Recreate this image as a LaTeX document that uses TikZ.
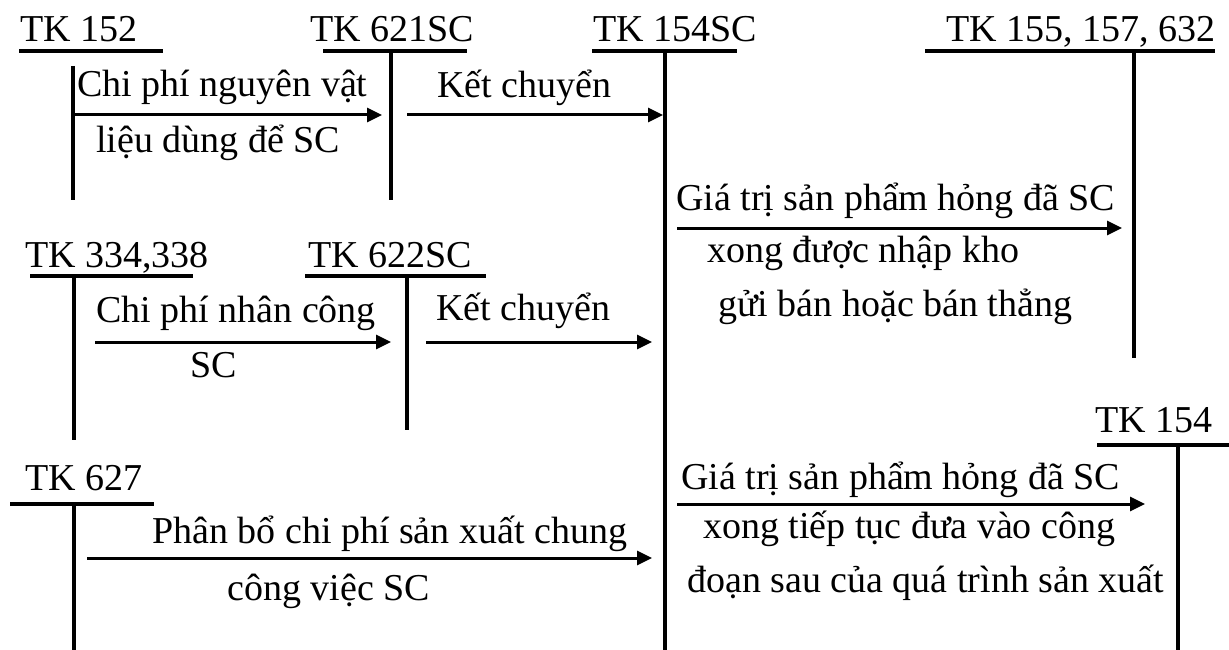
\documentclass[tikz,border=0pt]{standalone}
\usepackage{fontspec}
\setmainfont{Liberation Serif}
\usetikzlibrary{arrows.meta}
\begin{document}
\begin{tikzpicture}[x=1pt,y=-1pt,
  txt/.style={anchor=base west,inner sep=0pt,font=\fontsize{38}{45}\selectfont},
  tline/.style={line width=4pt},
  flow/.style={line width=3pt,-{Triangle[length=15pt,width=14pt]}}]
\useasboundingbox (0,0) rectangle (1229,650);

% account titles
\node[txt] (t152)  at (20,42)   {TK 152};
\node[txt] (t621)  at (310,42)  {TK 621SC};
\node[txt] (t154sc) at (593,42) {TK 154SC};
\node[txt] (t155)  at (946,42)  {TK 155, 157, 632};
\node[txt] (t334)  at (25,267)  {TK 334,338};
\node[txt] (t622)  at (308,267) {TK 622SC};
\node[txt] (t627)  at (25,490)  {TK 627};
\node[txt] (t154)  at (1095,432) {TK 154};

% T-account lines
\draw[tline] (19,51) -- (163,51);   \draw[tline] (73,66) -- (73,200);
\draw[tline] (323,51) -- (467,51);  \draw[tline] (391,51) -- (391,200);
\draw[tline] (592,51) -- (737,51);  \draw[tline] (665,51) -- (665,650);
\draw[tline] (925,51) -- (1215,51); \draw[tline] (1134,51) -- (1134,358);
\draw[tline] (30,276) -- (193,276); \draw[tline] (74,276) -- (74,440);
\draw[tline] (305,276) -- (486,276); \draw[tline] (407,276) -- (407,430);
\draw[tline] (10,504) -- (154,504); \draw[tline] (74,504) -- (74,650);
\draw[tline] (1097,445) -- (1229,445); \draw[tline] (1178,445) -- (1178,650);

% arrow end points
\coordinate (a1s) at (75,115);   \coordinate (a1e) at (382,115);
\coordinate (a2s) at (407,115);  \coordinate (a2e) at (663,115);
\coordinate (a3s) at (677,228);  \coordinate (a3e) at (1122,228);
\coordinate (a4s) at (95,342);   \coordinate (a4e) at (391,342);
\coordinate (a5s) at (426,342);  \coordinate (a5e) at (652,342);
\coordinate (a6s) at (87,558);   \coordinate (a6e) at (652,558);
\coordinate (a7s) at (677,504);  \coordinate (a7e) at (1145,504);

\draw[flow] (a1s) -- (a1e);
\draw[flow] (a2s) -- (a2e);
\draw[flow] (a3s) -- (a3e);
\draw[flow] (a4s) -- (a4e);
\draw[flow] (a5s) -- (a5e);
\draw[flow] (a6s) -- (a6e);
\draw[flow] (a7s) -- (a7e);

% entry descriptions
\node[txt] (l1a) at (77,97)   {Chi phí nguyên vật};
\node[txt] (l1b) at (96,153)  {liệu dùng để SC};
\node[txt] (l2)  at (437,98)  {Kết chuyển};
\node[txt] (l3a) at (676,210) {Giá trị sản phẩm hỏng đã SC};
\node[txt] (l3b) at (707,262) {xong được nhập kho};
\node[txt] (l3c) at (718,316) {gửi bán hoặc bán thẳng};
\node[txt] (l4a) at (96,322)  {Chi phí nhân công};
\node[txt] (l4b) at (190,377) {SC};
\node[txt] (l5)  at (436,320) {Kết chuyển};
\node[txt] (l6a) at (152,543) {Phân bổ chi phí sản xuất chung};
\node[txt] (l6b) at (227,600) {công việc SC};
\node[txt] (l7a) at (681,489) {Giá trị sản phẩm hỏng đã SC};
\node[txt] (l7b) at (703,538) {xong tiếp tục đưa vào công};
\node[txt] (l7c) at (687,592) {đoạn sau của quá trình sản xuất};
\end{tikzpicture}
\end{document}
